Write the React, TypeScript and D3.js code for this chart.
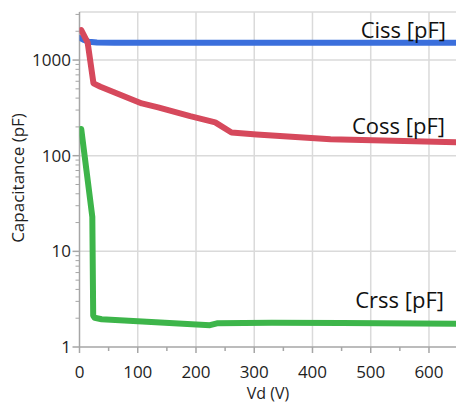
import React from "react";
import * as d3 from "d3";

const W = 456;
const H = 408;

const xTicks = [0, 100, 200, 300, 400, 500, 600];
const yTicks = [1, 10, 100, 1000];

const cissV = [1, 8, 16, 30, 60, 150, 300, 450, 650];
const cissC = [1700, 1620, 1550, 1525, 1520, 1520, 1520, 1520, 1520];

const cossV = [3, 14, 24, 36, 107, 135, 190, 233, 261, 304, 431, 650];
const cossC = [2060, 1520, 570, 526, 352, 320, 259, 223, 175, 167, 149, 138];

const crssV = [3, 12, 22, 23.5, 26, 38, 100, 224, 236, 330, 450, 650];
const crssC = [190, 70, 23, 2.13, 2.02, 1.95, 1.86, 1.69, 1.77, 1.79, 1.78, 1.75];

const seriesNames = ["Ciss [pF]", "Coss [pF]", "Crss [pF]"];
const seriesColors = ["#3b6fdc", "#d6495c", "#3db54a"];

export default function App() {
  const left = 79.5;
  const top = 12;
  const bottom = 347;
  const right = 456;
  const x = d3.scaleLinear().domain([0, 646.4]).range([left, right]);
  const y = d3.scaleLog().domain([1, 3180]).range([bottom, top]);

  const mk = (xs: number[], ys: number[]) =>
    d3
      .line<number>()
      .x((_, i) => x(xs[i]))
      .y((_, i) => y(ys[i]))
      .curve(d3.curveLinear)(ys) || "";

  const paths = [mk(cissV, cissC), mk(cossV, cossC), mk(crssV, crssC)];

  const minorY: number[] = [];
  for (const dec of [1, 10, 100, 1000]) {
    for (let k = 2; k <= 9; k++) {
      const v = k * dec;
      if (v <= 3180) minorY.push(v);
    }
  }
  const minorX = [50, 150, 250, 350, 450, 550];

  const font = "'Open Sans', 'Noto Sans', sans-serif";
  const grid = "#dadada";
  const axis = "#a6a6a6";
  const txt = "#1e1e1e";

  const labelPos = [
    { x: 446, y: 38 },
    { x: 445, y: 134 },
    { x: 444, y: 308 },
  ];

  return (
    <svg
      width={W}
      height={H}
      style={{ position: "absolute", left: 0, top: 0, background: "#fff" }}
      fontFamily={font}
    >
      <defs>
        <clipPath id="plot">
          <rect x={left} y={top} width={right - left} height={bottom - top} />
        </clipPath>
      </defs>
      <line x1={left} x2={right} y1={top} y2={top} stroke={grid} strokeWidth={1.5} />
      {yTicks.slice(1).map((t) => (
        <line key={"gy" + t} x1={left} x2={right} y1={y(t)} y2={y(t)} stroke={grid} strokeWidth={1.5} />
      ))}
      {xTicks.slice(1).map((t) => (
        <line key={"gx" + t} x1={x(t)} x2={x(t)} y1={top} y2={bottom} stroke={grid} strokeWidth={1.5} />
      ))}
      <line x1={left} x2={left} y1={top} y2={bottom} stroke={axis} strokeWidth={1.5} />
      <line x1={left} x2={right} y1={bottom} y2={bottom} stroke={axis} strokeWidth={1.5} />
      {yTicks.map((t) => (
        <g key={"ty" + t}>
          <line x1={left - 7} x2={left} y1={y(t)} y2={y(t)} stroke={axis} strokeWidth={1.5} />
          <text x={71} y={y(t)} dy="0.36em" textAnchor="end" fontSize={17} fill={txt}>
            {t}
          </text>
        </g>
      ))}
      {minorY.map((t) => (
        <line key={"my" + t} x1={left - 4} x2={left} y1={y(t)} y2={y(t)} stroke={axis} strokeWidth={1} />
      ))}
      {xTicks.map((t) => (
        <g key={"tx" + t}>
          <line x1={x(t)} x2={x(t)} y1={bottom} y2={bottom + 6} stroke={axis} strokeWidth={1.5} />
          <text x={x(t)} y={378} textAnchor="middle" fontSize={17} fill={txt}>
            {t}
          </text>
        </g>
      ))}
      {minorX.map((t) => (
        <line key={"mx" + t} x1={x(t)} x2={x(t)} y1={bottom} y2={bottom + 4} stroke={axis} strokeWidth={1.5} />
      ))}
      <text x={268} y={399} textAnchor="middle" fontSize={16} fill={txt}>
        Vd (V)
      </text>
      <text
        transform="translate(24,178) rotate(-90)"
        textAnchor="middle"
        fontSize={17}
        fill={txt}
      >
        Capacitance (pF)
      </text>
      <g clipPath="url(#plot)">
        {paths.map((p, i) => (
          <path
            key={"s" + i}
            d={p}
            fill="none"
            stroke={seriesColors[i]}
            strokeWidth={6}
            strokeLinejoin="round"
            strokeLinecap="round"
          />
        ))}
      </g>
      {seriesNames.map((n, i) => (
        <text
          key={"l" + i}
          x={labelPos[i].x}
          y={labelPos[i].y}
          textAnchor="end"
          fontSize={22}
          fill="#111"
        >
          {n}
        </text>
      ))}
    </svg>
  );
}
